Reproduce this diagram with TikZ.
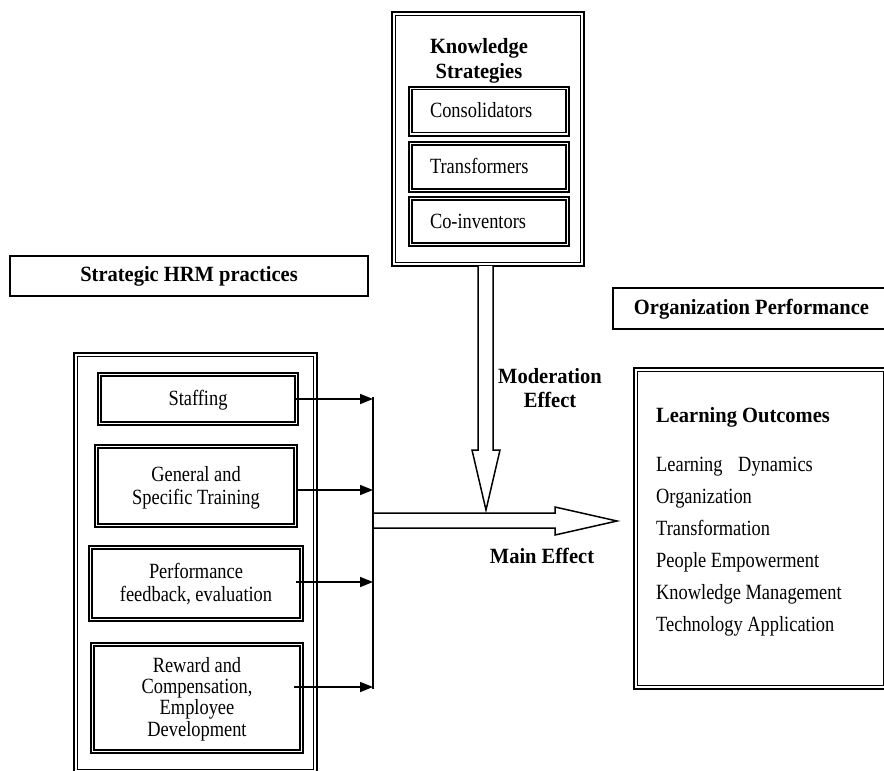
\documentclass[tikz,border=0pt]{standalone}
\usepackage{fontspec}
\usepackage{graphicx}
\setmainfont{Liberation Serif}
\usetikzlibrary{arrows.meta,calc}
\newcommand\vs[2][1.18]{\setbox0\hbox{\scalebox{1}[#1]{\begin{tabular}{@{}c@{}}#2\end{tabular}}}\raisebox{-2pt}[\ht0][\dp0]{\copy0}}
\newcommand\vb[1]{\setbox0\hbox{\scalebox{1}[1.06]{\begin{tabular}{@{}c@{}}#1\end{tabular}}}\raisebox{-1pt}[\ht0][\dp0]{\copy0}}
\begin{document}
\begin{tikzpicture}[x=1pt,y=-1pt,
  reg/.style={font=\fontsize{18.4}{19.5}\selectfont, align=center, inner sep=0pt},
  bld/.style={font=\fontsize{20.5}{23.5}\selectfont\bfseries, align=center, inner sep=0pt},
  obox/.style={draw, line width=2pt, inner sep=0pt},
  sbox/.style={draw, line width=1.5pt, inner sep=0pt},
  feed/.style={line width=1.5pt, -{Triangle[length=13pt,width=10pt]}},
  hollow/.style={draw, line width=1.5pt, fill=white, line join=miter}
]
\clip (0,0) rectangle (884,771);
\fill[white] (0,0) rectangle (884,771);

% Knowledge strategies
\node[obox, minimum width=192pt, minimum height=254pt] (ks) at (488,139) {};
\node[bld] (kstitle) at (479,60) {\vb{Knowledge\\Strategies}};
\node[obox, reg, minimum width=160pt, minimum height=49pt, text width=118pt, align=left] (cons) at (489,111) {\vs{Consolidators}};
\node[obox, reg, minimum width=160pt, minimum height=50pt, text width=118pt, align=left] (trans) at (489,167) {\vs{Transformers}};
\node[obox, reg, minimum width=160pt, minimum height=49pt, text width=118pt, align=left] (coinv) at (489,221.5) {\vs{Co-inventors}};

% HRM label
\node[sbox, bld, minimum width=358pt, minimum height=40pt] (hrm) at (189,276) {\vb{Strategic HRM practices}};

% Org performance label
\node[sbox, bld, minimum width=277pt, minimum height=41pt] (orgp) at (751.5,308.5) {\vb{Organization Performance}};

% Left big box
\node[obox, minimum width=243pt, minimum height=420pt] (hrmbox) at (195.5,563) {};
\node[obox, reg, minimum width=200pt, minimum height=52pt] (staff) at (198,399) {\vs{Staffing}};
\node[obox, reg, minimum width=202pt, minimum height=82pt] (train) at (196,486) {\vs{General and\\Specific Training}};
\node[obox, reg, minimum width=214pt, minimum height=75pt] (perf) at (196,583.5) {\vs{Performance\\feedback, evaluation}};
\node[obox, reg, minimum width=212pt, minimum height=110pt, font=\fontsize{18.4}{17.8}\selectfont] (rew) at (197,698) {\vs{Reward and\\Compensation,\\Employee\\Development}};

% Learning outcomes box
\node[obox, minimum width=253pt, minimum height=321pt] (lo) at (760.5,528.5) {};
\node[bld, anchor=west] (lotitle) at (656,417) {\vb{Learning Outcomes}};
\node[reg, anchor=west] (lo1) at (656,465) {\vs{Learning\hspace{11pt} Dynamics}};
\node[reg, anchor=west] (lo2) at (656,497) {\vs{Organization}};
\node[reg, anchor=west] (lo3) at (656,529) {\vs{Transformation}};
\node[reg, anchor=west] (lo4) at (656,561) {\vs{People Empowerment}};
\node[reg, anchor=west] (lo5) at (656,593) {\vs{Knowledge Management}};
\node[reg, anchor=west] (lo6) at (656,625) {\vs{Technology Application}};

% inner lines of double boxes
\foreach \n in {ks,hrmbox,lo}
  \draw[line width=1.3pt] ([shift={(4.5pt,4.5pt)}]\n.south west) rectangle ([shift={(-4.5pt,-4.5pt)}]\n.north east);
\foreach \n in {cons,trans,coinv,staff,train,perf,rew}
  \draw[line width=1.2pt] ([shift={(4pt,4pt)}]\n.south west) rectangle ([shift={(-4pt,-4pt)}]\n.north east);

% collecting bar
\coordinate (bartop) at (373,397);
\coordinate (barbot) at (373,689);
\draw[line width=2.5pt] (bartop) -- (barbot);
\draw[feed] ([xshift=-3pt]staff.east) -- (staff.east -| bartop);
\draw[feed] ([xshift=0pt]train.east |- 0,490) -- (373,490);
\draw[feed] ([xshift=-8pt]perf.east |- 0,582) -- (373,582);
\draw[feed] ([xshift=-10pt]rew.east |- 0,687) -- (373,687);

% hollow arrows
\path[hollow] (478,266) -- (478,450) -- (472,450) -- (486,510) -- (500,450) -- (493,450) -- (493,266);
\path[hollow] (374,513) -- (555,513) -- (555,507) -- (617,521) -- (555,535) -- (555,528) -- (374,528);

% labels
\node[bld, font=\fontsize{20.5}{22.5}\selectfont\bfseries] (mod) at (550,390) {\vb{Moderation\\Effect}};
\node[bld] (main) at (542,558) {\vb{Main Effect}};
\end{tikzpicture}
\end{document}
